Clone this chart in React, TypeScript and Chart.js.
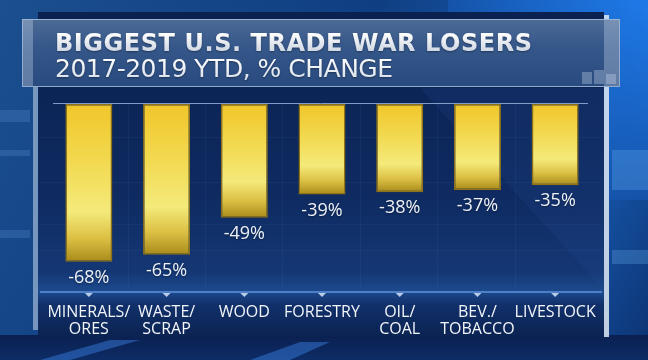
import React, { useEffect, useRef } from "react";
import { Chart, registerables } from "chart.js";

Chart.register(...registerables);

const categories: string[][] = [
  ["MINERALS/", "ORES"],
  ["WASTE/", "SCRAP"],
  ["WOOD"],
  ["FORESTRY"],
  ["OIL/", "COAL"],
  ["BEV./", "TOBACCO"],
  ["LIVESTOCK"],
];
const values: number[] = [-68, -65, -49, -39, -38, -37, -35];
const valueLabels: string[] = ["-68%", "-65%", "-49%", "-39%", "-38%", "-37%", "-35%"];
const titleText = "BIGGEST U.S. TRADE WAR LOSERS";
const subtitleText = "2017-2019 YTD, % CHANGE";

function fitText(ctx: CanvasRenderingContext2D, text: string, x: number, y: number, width: number) {
  (ctx as any).letterSpacing = "0px";
  const w = ctx.measureText(text).width;
  const extra = (width - w) / Math.max(1, text.length - 1);
  (ctx as any).letterSpacing = extra.toFixed(2) + "px";
  ctx.fillText(text, x, y);
  (ctx as any).letterSpacing = "0px";
}

const backgroundPlugin = {
  id: "tvBackground",
  beforeDraw(chart: any) {
    const ctx: CanvasRenderingContext2D = chart.ctx;
    const W = chart.width;
    const H = chart.height;
    ctx.save();
    // outer background
    let g = ctx.createLinearGradient(0, 0, W, H);
    g.addColorStop(0, "#1b4f8e");
    g.addColorStop(0.45, "#0f3f82");
    g.addColorStop(0.75, "#1a63c0");
    g.addColorStop(1, "#0c3270");
    ctx.fillStyle = g;
    ctx.fillRect(0, 0, W, H);
    g = ctx.createLinearGradient(W, 0, W - 160, 160);
    g.addColorStop(0, "#1f7ae8");
    g.addColorStop(1, "rgba(20,90,190,0)");
    ctx.fillStyle = g;
    ctx.fillRect(W - 200, 0, 200, 200);
    g = ctx.createLinearGradient(0, 335, 0, H);
    g.addColorStop(0, "#0a2050");
    g.addColorStop(1, "#0d2c66");
    ctx.fillStyle = g;
    ctx.fillRect(0, 335, W, H - 335);
    ctx.fillStyle = "rgba(60,130,230,0.45)";
    ctx.beginPath();
    ctx.moveTo(40, H);
    ctx.lineTo(110, 340);
    ctx.lineTo(140, 340);
    ctx.lineTo(70, H);
    ctx.closePath();
    ctx.fill();
    ctx.beginPath();
    ctx.moveTo(250, H);
    ctx.lineTo(300, 342);
    ctx.lineTo(330, 342);
    ctx.lineTo(290, H);
    ctx.closePath();
    ctx.fill();
    ctx.fillStyle = "rgba(90,150,220,0.25)";
    ctx.fillRect(0, 110, 30, 12);
    ctx.fillRect(0, 150, 30, 6);
    ctx.fillRect(0, 230, 30, 8);
    ctx.fillStyle = "rgba(120,190,250,0.25)";
    ctx.fillRect(612, 150, 36, 40);
    ctx.fillRect(612, 250, 36, 14);

    // main navy panel
    g = ctx.createLinearGradient(0, 12, 0, 337);
    g.addColorStop(0, "#0b2150");
    g.addColorStop(0.55, "#0e2a60");
    g.addColorStop(0.8, "#143774");
    g.addColorStop(0.86, "#1d4a8e");
    g.addColorStop(0.9, "#11306a");
    g.addColorStop(1, "#0b2352");
    ctx.fillStyle = g;
    ctx.fillRect(38, 12, 566, 325);
    ctx.fillStyle = "rgba(40,80,150,0.18)";
    ctx.beginPath();
    ctx.moveTo(420, 88);
    ctx.lineTo(604, 88);
    ctx.lineTo(604, 290);
    ctx.closePath();
    ctx.fill();
    ctx.strokeStyle = "rgba(120,160,230,0.07)";
    ctx.lineWidth = 1;
    for (const yy of [137, 182, 224, 250]) {
      ctx.beginPath();
      ctx.moveTo(40, yy + 0.5);
      ctx.lineTo(602, yy + 0.5);
      ctx.stroke();
    }
    for (const xx of [128, 205, 282, 360, 437, 515]) {
      ctx.beginPath();
      ctx.moveTo(xx + 0.5, 104);
      ctx.lineTo(xx + 0.5, 290);
      ctx.stroke();
    }
    ctx.fillStyle = "rgba(200,215,235,0.55)";
    ctx.fillRect(33, 20, 5, 310);
    ctx.fillStyle = "rgba(225,232,242,0.85)";
    ctx.fillRect(604, 15, 5, 322);

    // title panel
    g = ctx.createLinearGradient(0, 19, 0, 87);
    g.addColorStop(0, "#4d6b96");
    g.addColorStop(0.4, "#35578a");
    g.addColorStop(1, "#284a7e");
    ctx.fillStyle = g;
    ctx.fillRect(22, 19, 598, 68);
    ctx.strokeStyle = "rgba(190,210,235,0.7)";
    ctx.lineWidth = 1;
    ctx.strokeRect(22.5, 19.5, 597, 67);
    ctx.fillStyle = "rgba(200,215,235,0.35)";
    ctx.fillRect(23, 20, 10, 66);
    ctx.fillRect(604, 20, 15, 66);
    ctx.fillStyle = "rgba(200,215,235,0.35)";
    ctx.fillRect(582, 72, 10, 12);
    ctx.fillRect(594, 70, 10, 14);
    ctx.fillRect(606, 74, 10, 10);

    // title text
    ctx.textBaseline = "alphabetic";
    ctx.textAlign = "left";
    ctx.shadowColor = "rgba(0,0,0,0.35)";
    ctx.shadowBlur = 2;
    ctx.shadowOffsetY = 1;
    g = ctx.createLinearGradient(0, 33, 0, 52);
    g.addColorStop(0, "#ffffff");
    g.addColorStop(1, "#cdd6e2");
    ctx.fillStyle = g;
    ctx.font = "bold 24px 'DejaVu Sans', sans-serif";
    fitText(ctx, titleText, 55, 51, 477);
    g = ctx.createLinearGradient(0, 58, 0, 78);
    g.addColorStop(0, "#ffffff");
    g.addColorStop(1, "#dbe2ec");
    ctx.fillStyle = g;
    ctx.font = "25px 'DejaVu Sans', sans-serif";
    fitText(ctx, subtitleText, 55, 77, 338);
    ctx.restore();
  },
  afterDraw(chart: any) {
    const ctx: CanvasRenderingContext2D = chart.ctx;
    const xs = chart.scales.x;
    const ys = chart.scales.y;
    const area = chart.chartArea;
    ctx.save();
    const y0 = ys.getPixelForValue(0);
    ctx.strokeStyle = "rgba(170,195,235,0.75)";
    ctx.lineWidth = 1;
    ctx.beginPath();
    ctx.moveTo(53, Math.round(y0) - 0.5);
    ctx.lineTo(588, Math.round(y0) - 0.5);
    ctx.stroke();
    const yb = area.bottom;
    ctx.strokeStyle = "#5f93dc";
    ctx.lineWidth = 1.5;
    ctx.beginPath();
    ctx.moveTo(40, yb);
    ctx.lineTo(602, yb);
    ctx.stroke();
    ctx.fillStyle = "#b9cdea";
    for (let i = 0; i < values.length; i++) {
      const x = xs.getPixelForValue(i);
      ctx.beginPath();
      ctx.moveTo(x - 4, yb + 1);
      ctx.lineTo(x + 4, yb + 1);
      ctx.lineTo(x, yb + 5);
      ctx.closePath();
      ctx.fill();
    }
    const meta = chart.getDatasetMeta(0);
    ctx.font = "18px 'Open Sans', sans-serif";
    ctx.textAlign = "center";
    ctx.textBaseline = "top";
    ctx.shadowColor = "rgba(0,0,0,0.4)";
    ctx.shadowBlur = 2;
    ctx.shadowOffsetY = 1;
    ctx.fillStyle = "#eef2f8";
    meta.data.forEach((bar: any, i: number) => {
      ctx.fillText(valueLabels[i], bar.x, bar.y + 7);
    });
    ctx.restore();
  },
};

export default function App() {
  const ref = useRef<HTMLCanvasElement>(null);
  useEffect(() => {
    document.body.style.margin = "0";
    const canvas = ref.current!;
    const chart = new Chart(canvas, {
      type: "bar",
      data: {
        labels: categories,
        datasets: [
          {
            data: values,
            backgroundColor: (c: any) => {
              const ch = c.chart;
              const ys = ch.scales?.y;
              if (!ys || !ch.chartArea || c.raw === undefined) return "#f0cc30";
              const top = ys.getPixelForValue(0);
              const bottom = ys.getPixelForValue(c.raw);
              if (!isFinite(top) || !isFinite(bottom) || bottom <= top) return "#f0cc30";
              const g = ch.ctx.createLinearGradient(0, top, 0, bottom);
              g.addColorStop(0, "#f1c62a");
              g.addColorStop(0.35, "#f2d84e");
              g.addColorStop(0.68, "#f4ea7a");
              g.addColorStop(0.85, "#dcc044");
              g.addColorStop(1, "#a88a1a");
              return g;
            },
            borderColor: "#8f7214",
            borderWidth: 1.5,
            borderSkipped: false,
            categoryPercentage: 1,
            barPercentage: 0.605,
          },
        ],
      },
      options: {
        animation: false,
        responsive: false,
        layout: { padding: { left: 50, right: 54, top: 104, bottom: 0 } },
        plugins: { legend: { display: false }, tooltip: { enabled: false }, title: { display: false } },
        scales: {
          x: {
            grid: { display: false },
            border: { display: false },
            ticks: {
              color: "#f2f5fa",
              font: { family: "'Open Sans', sans-serif", size: 16, lineHeight: 1.05 },
              padding: 4,
              maxRotation: 0,
              autoSkip: false,
            },
            afterFit: (s: any) => {
              s.height = 68;
            },
          },
          y: {
            display: false,
            min: -81,
            max: 0,
          },
        },
      },
      plugins: [backgroundPlugin],
    });
    return () => chart.destroy();
  }, []);
  return (
    <div style={{ position: "fixed", left: 0, top: 0, width: 648, height: 360 }}>
      <canvas ref={ref} width={648} height={360} style={{ width: 648, height: 360 }} />
    </div>
  );
}
